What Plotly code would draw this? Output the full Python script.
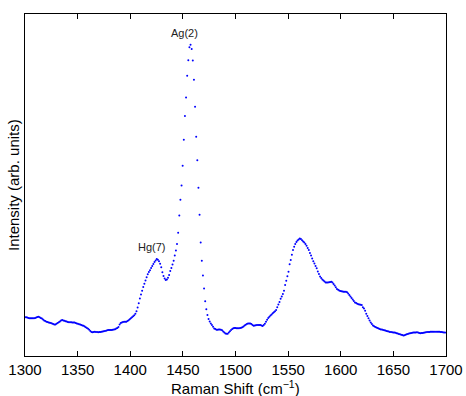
import numpy as np
import plotly.graph_objects as go

# Raman shift grid (cm^-1): 374 samples from 1300 at 1.07 cm^-1 spacing
shift_start = 1300.0
shift_step = 1.07

# Intensity (arb. units)
intensity = [
    38.7, 38.7, 38.4, 38.1, 37.8, 37.7, 37.7, 37.7, 37.7, 38.1,
    38.6, 39.0, 39.2, 38.7, 38.1, 37.5, 36.6, 35.6, 34.9, 34.3,
    34.0, 33.6, 33.3, 32.9, 32.6, 32.1, 31.6, 31.5, 32.2, 32.9,
    33.7, 34.5, 35.4, 35.9, 35.5, 35.2, 34.8, 34.4, 33.9, 33.7,
    33.7, 33.7, 33.6, 33.5, 33.4, 33.1, 32.6, 32.2, 31.8, 31.5,
    31.1, 30.6, 30.2, 29.5, 28.7, 28.0, 27.2, 26.2, 25.1, 24.0,
    23.8, 24.0, 24.3, 24.1, 23.9, 23.7, 23.9, 24.1, 24.3, 24.5,
    24.7, 25.0, 25.3, 25.7, 26.0, 26.0, 26.0, 26.0, 26.2, 26.5,
    26.7, 27.4, 28.1, 28.9, 31.5, 33.0, 33.6, 34.1, 34.3, 34.3,
    34.3, 34.9, 35.8, 36.7, 37.7, 38.7, 39.7, 40.7, 42.2, 44.7,
    48.6, 52.8, 57.4, 61.5, 65.2, 69.0, 72.2, 75.5, 78.7, 81.8,
    84.1, 85.8, 87.9, 90.1, 92.0, 94.0, 95.6, 97.0, 96.3, 94.7,
    92.3, 88.8, 83.7, 80.0, 77.5, 76.0, 76.5, 78.2, 81.0, 84.9,
    88.1, 91.5, 95.3, 100.4, 105.4, 112.1, 123.2, 140.5, 156.3, 170.4,
    190.3, 216.3, 240.0, 258.6, 280.3, 295.7, 308.7, 311.3, 307.1, 295.5,
    276.3, 249.3, 219.2, 195.8, 168.3, 141.2, 113.4, 95.3, 80.4, 67.5,
    54.8, 46.8, 41.0, 37.1, 34.6, 32.6, 30.9, 29.3, 27.6, 27.0,
    26.3, 26.3, 26.5, 26.6, 26.3, 25.8, 24.5, 23.5, 22.6, 22.3,
    22.3, 23.6, 24.8, 25.9, 27.1, 27.8, 27.9, 28.0, 27.8, 27.7,
    27.8, 27.9, 28.2, 28.7, 29.6, 30.5, 31.3, 31.9, 32.5, 32.6,
    32.4, 31.9, 31.1, 30.3, 30.5, 30.8, 31.0, 31.0, 31.0, 30.9,
    30.5, 30.1, 30.9, 32.3, 34.3, 36.3, 38.0, 39.3, 40.6, 41.6,
    42.7, 43.7, 44.8, 46.0, 48.8, 51.4, 54.1, 57.2, 59.6, 62.0,
    65.2, 71.0, 75.3, 79.8, 84.3, 91.8, 96.1, 101.2, 106.1, 109.3,
    111.9, 114.0, 115.6, 116.6, 117.4, 116.9, 115.7, 114.6, 113.6, 112.1,
    110.2, 108.1, 105.9, 103.1, 100.4, 97.5, 94.8, 92.5, 90.0, 87.7,
    84.5, 82.0, 79.5, 78.1, 76.6, 75.5, 74.5, 73.5, 73.4, 73.6,
    73.8, 74.0, 74.2, 73.5, 72.1, 70.6, 68.7, 66.9, 66.3, 65.6,
    65.0, 64.7, 64.5, 64.3, 64.3, 64.3, 63.8, 62.5, 61.1, 59.6,
    58.1, 56.5, 55.0, 53.5, 52.9, 52.3, 51.7, 51.5, 51.3, 51.0,
    48.7, 47.5, 45.2, 42.3, 40.0, 37.7, 35.5, 33.5, 32.1, 30.6,
    29.7, 29.1, 28.6, 28.0, 27.5, 26.9, 26.6, 26.4, 26.1, 25.8,
    25.5, 25.1, 24.8, 24.4, 24.1, 23.9, 23.7, 23.6, 23.4, 23.2,
    22.8, 22.5, 22.1, 21.8, 21.3, 20.9, 20.4, 20.7, 21.2, 21.7,
    22.0, 22.4, 22.7, 23.1, 23.3, 23.4, 23.5, 23.6, 23.7, 23.4,
    23.0, 22.7, 22.9, 23.1, 23.3, 23.6, 23.7, 23.9, 24.0, 24.1,
    24.2, 24.2, 24.3, 24.3, 24.3, 24.3, 24.3, 24.3, 24.2, 24.1,
    24.0, 23.8, 23.6, 23.4,
]
raman_shift = np.round(shift_start + shift_step * np.arange(len(intensity)), 2)

x_ticks = [1300, 1350, 1400, 1450, 1500, 1550, 1600, 1650, 1700]

peak_labels = ["Ag(2)", "Hg(7)"]
peak_x = [1452, 1421]
peak_y = [323, 109]

x_title = "Raman Shift (cm<sup>−1</sup>)"
y_title = "Intensity (arb. units)"

font_family = "Liberation Sans, Arial, Helvetica, sans-serif"

fig = go.Figure()
fig.add_trace(go.Scatter(
    x=raman_shift, y=intensity, mode="markers",
    marker=dict(color="rgb(0,0,255)", size=2, line=dict(width=0)),
    showlegend=False, hoverinfo="skip",
))

for lab, px, py in zip(peak_labels, peak_x, peak_y):
    fig.add_annotation(x=px, y=py, text=lab, showarrow=False,
                       font=dict(family=font_family, size=11, color="#222"),
                       xanchor="center", yanchor="middle")

# axis titles placed as paper-referenced annotations
fig.add_annotation(x=0.501, y=-0.093, xref="paper", yref="paper", text=x_title,
                   showarrow=False, xanchor="center", yanchor="middle",
                   font=dict(family=font_family, size=15, color="black"))
fig.add_annotation(x=-0.0285, y=0.5, xref="paper", yref="paper", text=y_title,
                   showarrow=False, xanchor="center", yanchor="middle", textangle=-90,
                   font=dict(family=font_family, size=15, color="black"))

fig.update_layout(
    width=466, height=396,
    margin=dict(l=25, r=20, t=14, b=40, autoexpand=False),
    paper_bgcolor="white", plot_bgcolor="white",
    font=dict(family=font_family, size=15, color="black"),
    showlegend=False,
)
fig.update_xaxes(
    range=[1300, 1700], tickvals=x_ticks, ticktext=[str(t) for t in x_ticks],
    showgrid=False, zeroline=False, automargin=False,
    showline=True, linecolor="black", linewidth=1, mirror="ticks",
    ticks="inside", ticklen=5, tickcolor="black",
    tickfont=dict(size=15, color="black"),
)
fig.update_yaxes(
    range=[0, 342], showticklabels=False, ticks="",
    showgrid=False, zeroline=False, automargin=False,
    showline=True, linecolor="black", linewidth=1, mirror=True,
)

# remove the default page margin so the figure fills the window exactly
fig.write_html(
    "out.html",
    config={"displayModeBar": False},
    post_script="document.body.style.margin='0px';document.documentElement.style.overflow='hidden';",
)
